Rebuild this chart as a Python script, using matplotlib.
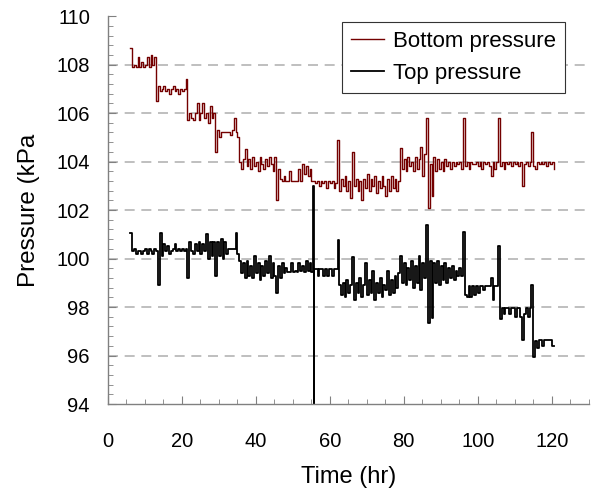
import matplotlib
matplotlib.use("Agg")
import matplotlib.pyplot as plt
from matplotlib.ticker import MultipleLocator
import numpy as np

# sample spacing of the logger (hr)
dt = 0.5

# Bottom pressure, kPa - (start hr, readings)
bottom_segments = [
    (6.0, [108.7, 107.9, 108.0, 107.9, 108.3, 107.9, 108.1, 107.9, 108.0, 108.3,
           107.9, 108.4, 108.0, 108.3]),
    (13.0, [106.5, 107.1, 106.9, 107.0, 107.1, 106.9, 107.0, 106.8, 107.0, 107.1,
            106.9, 107.0, 106.8, 107.0, 106.9, 107.0, 107.4]),
    (21.5, [105.7, 106.0, 105.8, 105.7, 106.0, 106.4, 105.7, 106.0, 106.4, 105.8,
            106.0, 105.6, 106.3, 105.8, 106.0]),
    (29.0, [104.4, 105.3, 105.0, 105.2, 105.2, 105.2, 105.2, 105.2, 105.1, 105.3,
            105.8, 105.2, 105.0]),
    (35.5, [104.0, 103.7, 104.1, 104.5, 103.8, 104.1, 103.7, 104.2, 103.8, 104.0,
            103.6, 104.2, 103.9, 103.7, 104.1, 103.8, 104.2, 103.9, 103.6, 104.2,
            102.4, 103.7]),
    (46.5, [103.3, 103.2, 103.4, 103.2, 103.2, 103.6, 103.2, 103.2, 103.2, 103.2,
            103.7, 103.2, 103.9, 103.5, 103.8, 103.4, 103.7, 103.2]),
    (55.5, [103.2, 103.1, 103.2, 103.0, 103.2, 103.1, 103.2, 102.9, 103.2, 103.1,
            103.2, 102.9, 103.1, 104.9, 102.8, 103.3, 103.0, 103.4, 102.8, 103.2,
            102.5, 104.4, 103.0, 103.3, 102.8, 103.2, 102.4, 103.3, 102.9, 103.5,
            102.8, 103.3, 103.0, 103.4, 102.7, 103.2, 102.9, 103.4, 103.0, 102.6,
            103.3, 102.8, 103.4, 102.9, 103.3, 102.8, 103.2]),
    (79.0, [104.55, 103.7, 104.1, 103.6, 104.2, 103.8, 104.0, 103.6, 104.2, 103.7,
            104.1, 104.6, 103.4, 104.3, 105.8, 102.1, 103.9, 102.6, 104.2, 103.6,
            104.1, 103.7, 104.0, 103.6, 104.1, 103.8, 104.0, 103.7, 104.0, 103.8,
            104.0, 103.9, 104.0, 103.7, 105.8, 103.8, 104.0, 103.7, 104.0, 103.9,
            103.9, 104.0, 103.8, 104.0, 103.7, 104.0, 103.9, 104.0, 103.8, 103.4,
            104.0, 103.7, 104.0, 105.8, 103.8, 104.0, 103.7, 104.0, 103.9, 104.0,
            103.8, 104.0, 103.9, 104.0, 103.8, 104.0, 103.0, 103.9, 104.0, 103.8,
            104.0, 105.2, 103.8, 103.7, 104.0, 103.9, 104.0, 103.9, 104.0, 103.8,
            104.0, 103.9, 104.0, 103.7]),
]

# Top pressure, kPa - (start hr, readings)
top_segments = [
    (6.0, [101.05, 100.3, 100.4, 100.2, 100.3, 100.3, 100.2, 100.3, 100.4, 100.2,
           100.4, 100.3, 100.2, 100.4, 100.3, 98.9, 101.05, 100.1, 100.6, 100.3,
           100.5, 100.2, 100.3, 100.4, 100.6, 100.3, 100.4, 100.3, 100.4, 100.3,
           100.4, 99.2, 100.7, 100.3, 100.2, 100.6, 100.3, 100.7, 100.2, 100.6,
           100.3, 101.0, 100.0, 100.7, 100.1, 100.7, 99.3, 100.7, 100.1, 100.8,
           100.0, 100.7, 100.2, 100.4, 100.4, 100.4, 100.4, 101.05, 100.2]),
    (35.5, [99.9, 99.4, 99.8, 99.2, 99.9, 99.3, 99.7, 99.2, 100.1, 99.4,
            99.8, 99.1, 99.7, 99.3, 99.9, 99.4, 100.1, 99.2, 99.8, 99.3,
            98.6, 99.7, 99.2, 99.8, 99.4, 99.6, 99.45, 99.45, 99.8, 99.45,
            99.5, 99.45, 99.8, 99.5, 99.7, 99.45, 99.9, 99.5, 99.8, 99.45]),
    # sensor glitch
    (55.5, [103.0]),
    (55.6, [93.5]),
    (55.7, [99.55, 99.55, 99.3, 99.55, 99.55, 99.3, 99.55, 99.3, 99.55, 99.55,
            99.3, 99.55, 99.55, 100.75]),
    (62.5, [98.9, 98.5, 99.0, 98.4, 99.1, 98.6, 98.9, 100.05, 98.3, 99.0,
            98.6, 99.2, 98.4, 98.9, 99.8, 98.5, 99.1, 98.6, 99.5, 98.3,
            99.0, 98.6, 99.2, 98.4, 98.9, 98.7, 99.5, 98.5, 99.1, 98.6,
            99.3, 98.8, 99.4]),
    (79.0, [100.1, 99.0, 99.8, 98.9, 99.6, 99.1, 99.9, 98.8, 99.7, 99.0,
            100.1, 98.7, 99.8, 99.2, 101.4, 97.35, 99.9, 97.55, 99.8, 99.0,
            99.9, 98.9, 99.7, 99.1, 99.8, 99.0, 99.6, 99.2, 99.7, 99.1,
            99.5, 99.3, 99.6, 99.3]),
    (96.0, [101.1, 98.5, 98.4, 98.85, 98.4, 98.85, 98.5, 98.85, 98.6, 98.85,
            98.85, 98.7, 98.85, 98.85, 98.85, 99.2, 98.3, 98.85, 98.85]),
    (105.5, [100.5, 97.5, 97.95, 97.7, 97.95, 97.95, 97.7, 97.95, 97.95, 97.6,
             97.95, 97.95, 97.6, 96.65, 97.7, 97.95, 97.6, 97.95]),
    (114.5, [98.9, 95.95, 96.6, 96.3, 96.65, 96.65, 96.4, 96.65, 96.65, 96.65,
             96.65, 96.4, 96.4]),
]


def build(segments):
    t = []
    p = []
    for start, vals in segments:
        for i, v in enumerate(vals):
            t.append(start + dt * i)
            p.append(v)
    return np.array(t), np.array(p)


tb, pb = build(bottom_segments)
tt, pt = build(top_segments)

plt.rcParams['font.family'] = ['Liberation Sans', 'DejaVu Sans']

fig = plt.figure(figsize=(5.92, 4.88), dpi=100)
ax = fig.add_axes([0.1824, 0.172, 0.812, 0.795])

ax.plot(tb, pb, color='#740000', lw=1.0, drawstyle='steps-post', label='Bottom pressure')
ax.plot(tt, pt, color='black', lw=1.3, drawstyle='steps-post', label='Top pressure')

ax.set_xlim(0, 130)
ax.set_ylim(94, 110)
ax.set_yticks(np.arange(94, 111, 2))
ax.set_xticks(np.arange(0, 121, 20))
ax.yaxis.set_minor_locator(MultipleLocator(0.4))
ax.xaxis.set_minor_locator(MultipleLocator(5))

for yv in range(96, 109, 2):
    ax.axhline(yv, color='#b4b4b4', lw=1.2, dashes=(6, 4), zorder=0)

for s in ['top', 'right']:
    ax.spines[s].set_visible(False)
for s in ['left', 'bottom']:
    ax.spines[s].set_color('#808080')
    ax.spines[s].set_linewidth(1.0)

ax.tick_params(axis='both', which='both', direction='in', colors='#808080',
               labelcolor='black', labelsize=14.5)
ax.tick_params(axis='both', which='major', length=6)
ax.tick_params(axis='both', which='minor', length=3.5)
ax.tick_params(axis='x', which='major', pad=20)
ax.tick_params(axis='y', which='major', pad=13)

ax.set_xlabel('Time (hr)', fontsize=17, labelpad=11)
ax.set_ylabel('Pressure (kPa', fontsize=17.5, labelpad=12)

leg = ax.legend(loc='upper right', bbox_to_anchor=(0.951, 0.985), fontsize=16,
                fancybox=False, frameon=True, framealpha=1, edgecolor='#333333',
                handlelength=1.5, handletextpad=0.4, labelspacing=0.5,
                borderpad=0.4, borderaxespad=0)
leg.get_frame().set_linewidth(0.8)

fig.savefig('out.png', dpi=100)
